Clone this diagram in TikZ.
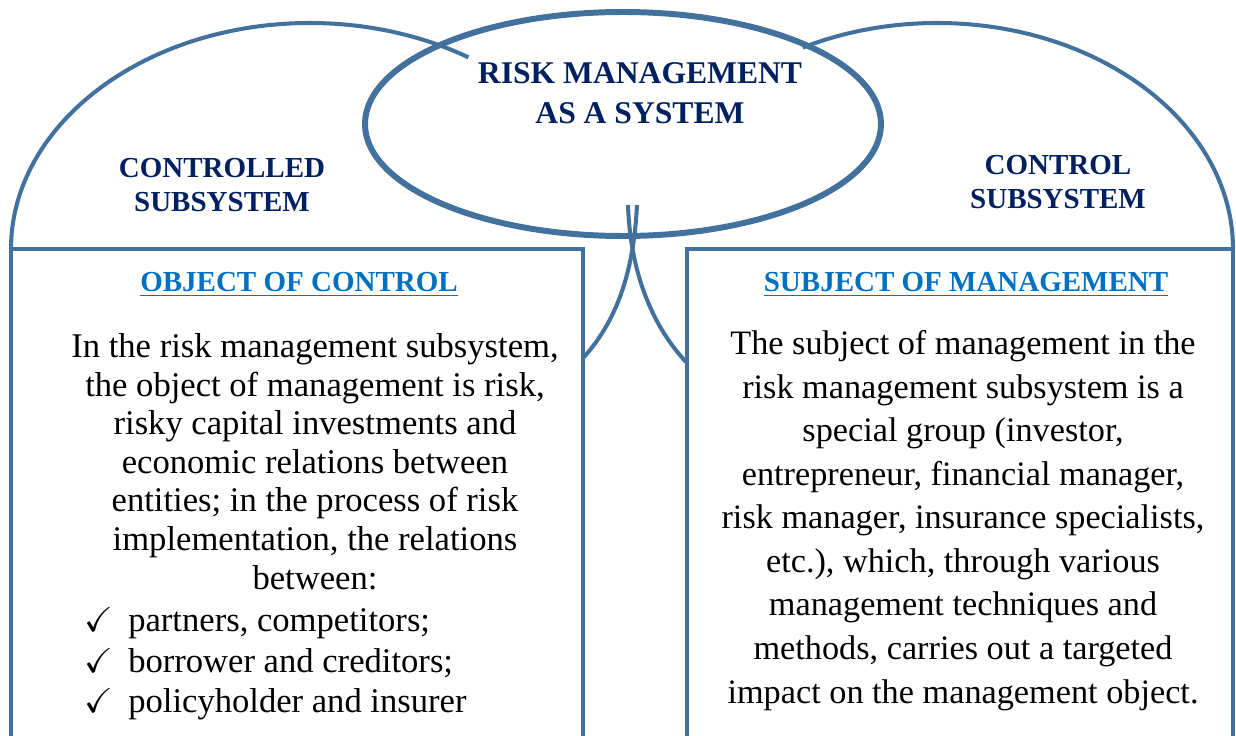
\documentclass[tikz,border=0pt]{standalone}
\usepackage{amssymb}
\usepackage{fontspec}
\setmainfont{Liberation Serif}
\usetikzlibrary{positioning}
\tikzset{>=latex}
\definecolor{rimblue}{HTML}{41719C}
\definecolor{titlenavy}{HTML}{002060}
\definecolor{headblue}{HTML}{0070C0}
\tikzset{
  sysline/.style={draw=rimblue, line width=2.3pt},
  systitle/.style={font=\fontsize{18}{22.7}\selectfont\bfseries, text=titlenavy, align=center},
  subtitle/.style={font=\fontsize{16.5}{19.8}\selectfont\bfseries, text=titlenavy, align=center},
  boxhead/.style={font=\fontsize{16.5}{20}\selectfont\bfseries, text=headblue, anchor=base},
  boxtext/.style={align=center, inner sep=0pt, anchor=north},
}
\newcommand{\tick}{\makebox[25pt][l]{$\checkmark$}}

\begin{document}
\begin{tikzpicture}[x=0.02cm, y=0.02cm]
            \useasboundingbox (0,0) rectangle (1236,735);
            % the two subsystems
            \draw[sysline] (11,486) arc[start angle=180, end angle=58, x radius=299, y radius=226];
            \draw[sysline] (1233,486) arc[start angle=0, end angle=117, x radius=296, y radius=226];
            \draw[sysline] (11,-10) rectangle (583,486);
            \draw[sysline] (687,-10) rectangle (1233,486);
            % the system itself
            \draw[sysline, line width=3.4pt] (623,611) ellipse [x radius=258, y radius=112];
            \coordinate (stemL) at (637,530);
            \coordinate (stemR) at (628,530);
            \coordinate (joinL) at (584,378);
            \coordinate (joinR) at (686,373);
            \draw[sysline] (joinL) .. controls (620,418) and (634,470) .. (stemL);
            \draw[sysline] (joinR) .. controls (648,414) and (630,470) .. (stemR);
            \node[systitle] (title) at (640,642) {RISK MANAGEMENT\\AS A SYSTEM};
            \node[subtitle] (ctrlled) at (222,550) {CONTROLLED\\SUBSYSTEM};
            \node[subtitle] (ctrl) at (1058,553) {CONTROL\\SUBSYSTEM};
            \node[boxhead] (objhead) at (299,444) {\underline{OBJECT OF CONTROL}};
            \node[boxhead] (subjhead) at (966,444) {\underline{SUBJECT OF MANAGEMENT}};
            \node[boxtext, font=\fontsize{19.7}{22}\selectfont] (objtext) at (315,402) {In the risk management subsystem,\\the object of management is risk,\\risky capital investments and\\economic relations between\\entities; in the process of risk\\implementation, the relations\\between:};
            \node[boxtext, anchor=north west, align=left, font=\fontsize{19.7}{23.2}\selectfont] (objlist) at (84,128) {\tick partners, competitors;\\\tick borrower and creditors;\\\tick policyholder and insurer};
            \node[boxtext, font=\fontsize{19.5}{24.8}\selectfont] (subjtext) at (963,405) {The subject of management in the\\risk management subsystem is a\\special group (investor,\\entrepreneur, financial manager,\\risk manager, insurance specialists,\\etc.), which, through various\\management techniques and\\methods, carries out a targeted\\impact on the management object.};
        \end{tikzpicture}
\end{document}
